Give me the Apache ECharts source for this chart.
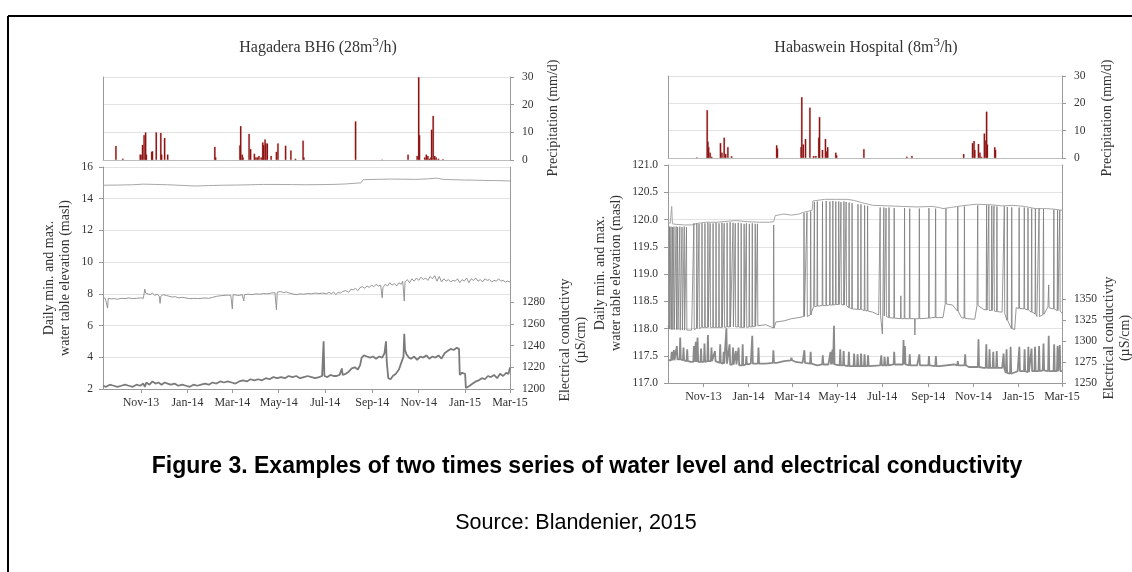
<!DOCTYPE html>
<html><head><meta charset="utf-8">
<script src="https://cdn.jsdelivr.net/npm/echarts@6/dist/echarts.min.js"></script>
<style>html,body{margin:0;padding:0;background:#fff}#c{width:1132px;height:572px}</style>
</head><body><div id="c"></div>
<script>
// x values: days since 1 Sep 2013
const tickDays = [61,122,181,242,303,365,426,487,546];
const tickLabels = ['Nov-13','Jan-14','Mar-14','May-14','Jul-14','Sep-14','Nov-14','Jan-15','Mar-15'];
const ecTicksLeft = [1200,1220,1240,1260,1280];
const ecTicksRight = [1250,1275,1300,1325,1350];

// Hagadera BH6
const hagPrecip = [[28,5.1],[37,0.5],[60,2],[61,2],[63,5.5],[65,9],[67,10],[68,2],[75,3],[76,3.2],[81,10],[87,9.8],[88,2],[92,8],[96,2],[158,4.8],[159,1],[191,5.3],[192,12.3],[194,2],[195,1],[203,9.5],[205,4],[210,2.3],[212,1],[214,1],[216,1.5],[219,1],[221,6.4],[222,5.5],[224,7.5],[225,6],[227,6],[232,1.5],[239,3],[241,6],[251,5.2],[258,3.5],[264,0.5],[274,7],[275,1],[343,14],[378,0.2],[412,2],[424,1.5],[426,30],[427,9],[434,1],[436,2],[438,1.5],[440,0.5],[442,1],[443,11],[445,16],[447,1.5],[449,1],[452,0.5],[458,0.3]];
const hagMax = [[11,14.85],[30,14.86],[50,14.88],[64,14.92],[80,14.9],[96,14.88],[115,14.84],[132,14.8],[150,14.83],[168,14.85],[185,14.86],[205,14.88],[222,14.9],[241,14.9],[260,14.89],[277,14.88],[295,14.89],[313,14.9],[330,14.93],[341,14.97],[350,15.0],[353,15.2],[370,15.22],[390,15.24],[405,15.23],[422,15.22],[438,15.25],[449,15.3],[458,15.22],[470,15.2],[486,15.18],[500,15.17],[513,15.15],[530,15.14],[546,15.12]];
const hagMin = [[11,7.75],[14,7.72],[16,7.8],[17,7.1],[18,7.72],[22,7.68],[26,7.7],[30,7.66],[35,7.72],[40,7.7],[45,7.74],[50,7.7],[55,7.72],[60,7.74],[64,7.72],[66,8.3],[67,8.05],[70,8.0],[73,7.95],[76,8.05],[79,7.9],[82,7.98],[85,7.85],[86,7.4],[87,7.85],[90,7.95],[94,7.9],[98,7.85],[102,7.8],[106,7.82],[110,7.75],[115,7.78],[120,7.74],[125,7.7],[130,7.72],[135,7.7],[140,7.72],[145,7.74],[150,7.72],[155,7.78],[160,7.84],[165,7.88],[170,7.9],[175,7.92],[179,7.9],[181,7.05],[182,7.95],[186,7.92],[190,7.9],[194,7.95],[196,7.55],[197,7.95],[202,7.98],[207,7.95],[212,8.0],[217,7.98],[222,8.02],[227,8.0],[232,8.05],[237,8.08],[239,7.0],[240,8.1],[244,8.15],[248,8.08],[252,8.12],[256,8.05],[260,8.0],[265,7.95],[270,8.0],[275,7.98],[280,8.02],[285,8.0],[290,8.05],[295,8.02],[300,8.05],[305,8.0],[308,8.1],[311,8.0],[314,8.12],[317,7.95],[320,8.1],[323,8.05],[326,8.15],[330,8.2],[334,8.1],[337,8.3],[340,8.25],[343,8.35],[346,8.2],[349,8.4],[352,8.45],[355,8.35],[358,8.5],[361,8.4],[364,8.55],[367,8.45],[370,8.6],[373,8.5],[376,8.55],[378,7.75],[379,8.4],[382,8.6],[385,8.5],[388,8.7],[391,8.55],[394,8.65],[397,8.5],[400,8.7],[403,8.6],[405,8.8],[407,7.55],[408,8.75],[411,8.9],[414,8.7],[417,8.95],[420,8.8],[423,9.0],[426,8.85],[429,9.05],[432,8.9],[435,9.0],[438,8.85],[441,9.1],[444,8.95],[447,9.15],[450,8.8],[453,9.1],[456,8.75],[459,8.95],[462,8.8],[465,8.9],[468,8.75],[471,8.85],[474,8.8],[477,8.95],[480,8.7],[483,8.9],[486,8.8],[489,9.0],[492,8.7],[495,8.95],[498,8.85],[501,9.0],[504,8.8],[507,8.9],[510,8.75],[513,8.95],[516,8.85],[519,8.9],[522,8.75],[525,8.85],[528,8.8],[531,8.95],[534,8.8],[537,8.85],[540,8.75],[543,8.8],[546,8.75]];
const hagEC = [[11,1203],[15,1202],[20,1204],[25,1203],[30,1202],[35,1203],[40,1204],[45,1203],[50,1202],[55,1204],[60,1203],[64,1205],[66,1202],[68,1206],[72,1204],[76,1207],[80,1205],[84,1206],[88,1204],[92,1206],[96,1205],[100,1204],[105,1205],[110,1203],[115,1204],[120,1203],[125,1202],[130,1204],[135,1203],[140,1204],[145,1205],[150,1204],[155,1206],[160,1205],[165,1207],[170,1206],[175,1207],[180,1206],[185,1205],[190,1207],[195,1208],[200,1207],[205,1209],[210,1208],[215,1209],[220,1208],[225,1210],[230,1209],[235,1211],[240,1210],[245,1211],[250,1210],[255,1212],[260,1211],[265,1212],[270,1210],[275,1211],[280,1212],[285,1211],[290,1210],[295,1211],[299,1212],[301,1244],[302,1212],[306,1211],[310,1213],[314,1212],[318,1212],[322,1213],[325,1219],[326,1213],[330,1214],[334,1216],[338,1219],[342,1220],[346,1218],[349,1222],[351,1229],[354,1231],[358,1230],[362,1229],[366,1230],[370,1228],[374,1230],[378,1229],[381,1233],[383,1244],[384,1225],[386,1210],[389,1209],[392,1212],[396,1214],[400,1218],[404,1226],[406,1230],[407,1251],[408,1236],[410,1232],[413,1229],[416,1228],[420,1230],[424,1227],[428,1230],[432,1229],[436,1231],[440,1228],[444,1230],[448,1229],[452,1231],[456,1228],[460,1233],[464,1235],[468,1237],[472,1236],[476,1238],[479,1237],[480,1213],[483,1215],[487,1214],[488,1201],[490,1200],[493,1203],[497,1205],[501,1207],[505,1208],[509,1210],[513,1209],[517,1212],[521,1211],[525,1213],[529,1210],[533,1214],[537,1212],[541,1215],[544,1214],[546,1220]];

// Habaswein Hospital
const habPrecip = [[52,0.3],[66,17.5],[67,6],[68,4],[70,2],[72,0.5],[84,5.5],[86,2],[89,7.5],[91,1.5],[94,4],[99,0.7],[160,4.7],[161,3.5],[193,4],[194,22.3],[196,5],[199,7],[205,18.5],[210,0.8],[213,0.8],[217,7.5],[218,15],[222,3],[226,7],[227,2.5],[229,4],[240,2],[241,1],[278,3.3],[336,0.5],[343,0.8],[413,1.5],[425,5.5],[427,6.3],[428,3],[433,5.2],[435,2],[437,0.5],[441,9],[443,6.5],[444,17],[445,5],[455,4],[456,3]];
const habMax = [[13,119.95],[16,119.93],[18,120.24],[19,119.92],[25,119.91],[35,119.9],[45,119.9],[53,119.93],[65,119.95],[80,119.95],[95,119.97],[105,119.98],[120,119.96],[135,119.95],[150,119.95],[156,119.96],[158,120.07],[165,120.09],[170,120.1],[180,120.08],[190,120.1],[196,120.13],[205,120.16],[208,120.17],[209,120.34],[225,120.37],[240,120.37],[255,120.37],[265,120.35],[275,120.31],[290,120.26],[310,120.25],[330,120.24],[350,120.23],[370,120.24],[380,120.22],[385,120.2],[395,120.22],[410,120.25],[430,120.28],[450,120.27],[465,120.25],[480,120.26],[495,120.24],[510,120.2],[525,120.2],[535,120.19],[546,120.17]];
const habMinBase = [[13,118.05],[20,118.0],[30,117.97],[45,117.97],[57,118.02],[80,118.02],[100,118.03],[120,118.02],[135,118.05],[145,118.07],[152,118.03],[157,118.0],[159,118.12],[170,118.14],[180,118.18],[190,118.2],[200,118.22],[207,118.3],[210,118.4],[225,118.42],[245,118.44],[255,118.42],[260,118.36],[275,118.35],[290,118.3],[298,118.25],[310,118.2],[330,118.18],[350,118.18],[370,118.2],[385,118.2],[388,118.45],[398,118.43],[406,118.3],[410,118.2],[418,118.18],[428,118.17],[431,118.42],[440,118.35],[455,118.32],[465,118.3],[474,118.1],[479,118.0],[482,117.98],[484,118.38],[495.6,118.36],[506,118.3],[512,118.22],[520,118.25],[527,118.4],[537,118.35],[546,118.28]];
// [day, base, peak]
const habMinSpikes = [[15,117.99,119.87],[17,117.98,119.87],[19,117.98,119.86],[21,117.98,119.87],[24,117.98,119.87],[26,117.98,119.86],[29,117.97,119.87],[32,117.97,119.86],[35,117.97,119.87],[38,117.97,119.86],[48,117.98,119.93],[52,118.0,119.93],[55,118.0,119.92],[59,118.02,119.93],[63,118.02,119.93],[67,118.02,119.94],[70,118.02,119.93],[74,118.02,119.93],[78,118.02,119.94],[82,118.02,119.93],[86,118.02,119.94],[89,118.02,119.93],[93,118.03,119.94],[97,118.03,119.95],[101,118.03,119.94],[104,118.03,119.93],[108,118.03,119.94],[112,118.02,119.93],[116,118.02,119.92],[119,118.02,119.93],[123,118.03,119.92],[127,118.03,119.93],[131,118.04,119.92],[134,118.05,119.92],[156,118.01,119.9],[197,118.22,120.12],[201,118.22,120.13],[206,118.25,120.15],[211,118.4,120.32],[215,118.41,120.33],[222,118.42,120.33],[227,118.42,120.34],[232,118.43,120.33],[236,118.43,120.34],[240,118.44,120.33],[244,118.44,120.33],[247,118.44,120.32],[251,118.43,120.33],[254,118.42,120.32],[258,118.38,120.31],[262,118.36,120.3],[270,118.35,120.28],[274,118.35,120.28],[279,118.33,120.26],[283,118.32,120.25],[300,118.24,120.22],[303,118.23,117.9],[305,118.23,120.22],[308,118.22,120.21],[312,118.2,120.22],[319,118.19,120.21],[328,118.18,118.6],[333,118.18,120.21],[340,118.18,120.2],[347,118.18,117.88],[353,118.18,120.2],[366,118.19,120.21],[375,118.2,120.2],[389,118.45,120.2],[405,118.32,120.23],[414,118.19,120.24],[432,118.42,120.26],[444,118.34,120.26],[447,118.33,120.26],[451,118.33,120.25],[454,118.32,120.25],[458,118.31,120.24],[468,118.28,120.24],[472,118.15,120.23],[478,118.0,120.22],[488,118.37,120.22],[495,118.36,120.22],[500,118.34,120.21],[505,118.3,120.2],[510,118.27,120.2],[515,118.22,120.2],[521,118.26,120.19],[528,118.38,118.8],[535,118.36,120.18],[540,118.33,120.17],[543,118.32,120.17]];
const habEcBase = [[13,1277],[22.5,1278],[31,1277],[40,1276],[44,1275],[60,1275],[75,1276],[90,1273],[100,1272],[112,1271],[125,1273],[145,1273],[160,1274],[170,1276],[182,1277],[186,1275],[195,1274],[215,1271],[230,1272],[260,1270],[280,1270],[300,1271],[320,1272],[350,1271],[380,1270],[400,1272],[420,1269],[440,1268],[465,1268],[470,1262],[480,1261],[486,1264],[498,1263],[520,1265],[546,1264]];
const habEcSpikes = [[18,1277,1287],[21,1277,1289],[25,1278,1294],[29.5,1278,1304],[34,1277,1292],[39,1276,1290],[48,1275,1294],[50.6,1275,1299],[53,1275,1304],[57.7,1275,1291],[62.4,1275,1297],[67,1276,1307],[71.8,1276,1292],[76.5,1276,1288],[83.6,1274,1296],[88.3,1273,1287],[92,1273,1315],[96.3,1272,1296],[101,1272,1292],[104.8,1272,1288],[108.5,1271,1292],[114,1271,1296],[119,1272,1282],[127,1273,1306],[135.4,1273,1292],[155.6,1274,1289],[180,1277,1280],[197.5,1274,1289],[206,1273,1287],[222.4,1272,1283],[232.8,1272,1287],[235.6,1272,1290],[237.5,1272,1318],[246,1271,1290],[250.6,1271,1288],[257.7,1270,1287],[264.8,1270,1285],[269.5,1270,1284],[274.2,1270,1285],[278.9,1270,1284],[283.6,1270,1283],[301.5,1271,1283],[306,1271,1281],[310.4,1271,1281],[319,1272,1287],[331.6,1272,1301],[333.5,1272,1294],[340,1271,1284],[353,1271,1284],[366,1271,1282],[375.4,1270,1282],[405,1271,1276],[415,1271,1284],[433,1269,1302],[443.6,1268,1296],[448,1268,1290],[453,1268,1287],[457.7,1268,1288],[467,1268,1285],[471,1262,1290],[476.5,1261,1293],[488.3,1264,1293],[495.4,1264,1290],[500.5,1263,1293],[504.8,1264,1291],[509.5,1264,1293],[515,1264,1294],[521,1265,1297],[528,1264,1306],[535.4,1264,1296],[540,1264,1294],[543,1264,1295]];

function withSpikes(base, spikes, hw) {
  const pts = base.map(p => [p[0], p[1]]);
  spikes.forEach(s => { pts.push([s[0] - hw, s[1]], [s[0], s[2]], [s[0] + hw, s[1]]); });
  pts.sort((a, b) => a[0] - b[0]);
  return pts;
}

const SERIF = 'Liberation Serif';
const TXT = '#333';
const AX = '#9a9a9a';
const GRIDC = '#e2e2e2';
const plain = v => String(v);

function xAxisDef(grid, min, labels) {
  return {
    type: 'value', gridIndex: grid, min: min, max: 546,
    axisLine: {show: true, onZero: false, lineStyle: {color: labels ? AX : '#bdbdbd'}},
    axisTick: labels ? {show: true, customValues: tickDays, length: 4, lineStyle: {color: AX}} : {show: false},
    axisLabel: labels ? {show: true, customValues: tickDays, margin: 8, fontFamily: SERIF, fontSize: 12, color: TXT,
      formatter: v => { const i = tickDays.indexOf(v); return i >= 0 ? tickLabels[i] : ''; }} : {show: false},
    splitLine: {show: false}
  };
}
function yAxisDef(grid, pos, min, max, opts) {
  const o = Object.assign({
    type: 'value', gridIndex: grid, position: pos, min: min, max: max,
    axisLine: {show: true, lineStyle: {color: AX}},
    axisTick: {show: true, length: 4, lineStyle: {color: AX}},
    axisLabel: {show: true, margin: pos === 'left' ? 10 : 12, fontFamily: SERIF, fontSize: 11.5, color: TXT, formatter: plain},
    splitLine: {show: false}
  }, opts || {});
  return o;
}

const option = {
  animation: false,
  backgroundColor: '#fff',
  grid: [
    {left: 103, top: 77, width: 407, height: 83, outerBoundsMode: 'none'},
    {left: 103, top: 167, width: 407, height: 222, outerBoundsMode: 'none'},
    {left: 668, top: 76, width: 394, height: 82, outerBoundsMode: 'none'},
    {left: 668, top: 165, width: 394, height: 218, outerBoundsMode: 'none'}
  ],
  xAxis: [xAxisDef(0, 11, false), xAxisDef(1, 11, true), xAxisDef(2, 13, false), xAxisDef(3, 13, true)],
  yAxis: [
    yAxisDef(0, 'left', 0, 30, {interval: 10, axisTick: {show: false}, axisLabel: {show: false}, splitLine: {show: true, lineStyle: {color: GRIDC}}}),
    yAxisDef(0, 'right', 0, 30, {interval: 10}),
    yAxisDef(1, 'left', 2, 16, {interval: 2, splitLine: {show: true, lineStyle: {color: GRIDC}}}),
    yAxisDef(1, 'right', 1200, 1405, {
      axisTick: {show: true, length: 4, customValues: ecTicksLeft, lineStyle: {color: AX}},
      axisLabel: {show: true, margin: 12, customValues: ecTicksLeft, fontFamily: SERIF, fontSize: 11.5, color: TXT, formatter: plain}}),
    yAxisDef(2, 'left', 0, 30, {interval: 10, axisTick: {show: false}, axisLabel: {show: false}, splitLine: {show: true, lineStyle: {color: GRIDC}}}),
    yAxisDef(2, 'right', 0, 30, {interval: 10}),
    yAxisDef(3, 'left', 117, 121, {interval: 0.5, splitLine: {show: true, lineStyle: {color: GRIDC}},
      axisLabel: {show: true, margin: 10, fontFamily: SERIF, fontSize: 11.5, color: TXT, formatter: v => v.toFixed(1)}}),
    yAxisDef(3, 'right', 1250, 1509, {
      axisTick: {show: true, length: 4, customValues: ecTicksRight, lineStyle: {color: AX}},
      axisLabel: {show: true, margin: 12, customValues: ecTicksRight, fontFamily: SERIF, fontSize: 11.5, color: TXT, formatter: plain}})
  ],
  series: [
    {type: 'bar', name: 'Precipitation', xAxisIndex: 0, yAxisIndex: 0, data: hagPrecip, barWidth: 1.8,
      itemStyle: {color: '#8b0a0a', borderColor: 'rgba(170,80,80,0.6)', borderWidth: 0.4}},
    {type: 'line', name: 'Max', xAxisIndex: 1, yAxisIndex: 2, data: hagMax, showSymbol: false, symbol: 'none',
      lineStyle: {color: '#a8a8a8', width: 1}},
    {type: 'line', name: 'Min', xAxisIndex: 1, yAxisIndex: 2, data: hagMin, showSymbol: false, symbol: 'none',
      lineStyle: {color: '#8a8a8a', width: 0.9}},
    {type: 'line', name: 'EC', xAxisIndex: 1, yAxisIndex: 3, data: hagEC, showSymbol: false, symbol: 'none',
      lineStyle: {color: '#7a7a7a', width: 1.8}},
    {type: 'bar', name: 'Precipitation', xAxisIndex: 2, yAxisIndex: 4, data: habPrecip, barWidth: 1.8,
      itemStyle: {color: '#8b0a0a', borderColor: 'rgba(170,80,80,0.6)', borderWidth: 0.4}},
    {type: 'line', name: 'Max', xAxisIndex: 3, yAxisIndex: 6, data: habMax, showSymbol: false, symbol: 'none',
      lineStyle: {color: '#a6a6a6', width: 1}},
    {type: 'line', name: 'Min', xAxisIndex: 3, yAxisIndex: 6, data: withSpikes(habMinBase, habMinSpikes, 0.5), showSymbol: false, symbol: 'none',
      lineStyle: {color: '#7c7c7c', width: 0.8}},
    {type: 'line', name: 'EC', xAxisIndex: 3, yAxisIndex: 7, data: withSpikes(habEcBase, habEcSpikes, 0.8), showSymbol: false, symbol: 'none',
      lineStyle: {color: '#8a8a8a', width: 1.8}}
  ],
  graphic: [
    {type: 'line', shape: {x1: 8, y1: 16, x2: 1132, y2: 16}, style: {stroke: '#000', lineWidth: 2}},
    {type: 'line', shape: {x1: 8, y1: 16, x2: 8, y2: 572}, style: {stroke: '#000', lineWidth: 2}},
    {type: 'text', x: 318, y: 46, style: {text: '{n|Hagadera BH6 (28m}{s|3}{n|/h)}', align: 'center', verticalAlign: 'middle', textAlign: 'center', textVerticalAlign: 'middle',
      rich: {n: {fontFamily: SERIF, fontSize: 16, fill: TXT, color: TXT, lineHeight: 20, verticalAlign: 'bottom'}, s: {fontFamily: SERIF, fontSize: 13, fill: TXT, color: TXT, lineHeight: 20, verticalAlign: 'top'}}}},
    {type: 'text', x: 866, y: 46, style: {text: '{n|Habaswein Hospital (8m}{s|3}{n|/h)}', align: 'center', verticalAlign: 'middle', textAlign: 'center', textVerticalAlign: 'middle',
      rich: {n: {fontFamily: SERIF, fontSize: 16, fill: TXT, color: TXT, lineHeight: 20, verticalAlign: 'bottom'}, s: {fontFamily: SERIF, fontSize: 13, fill: TXT, color: TXT, lineHeight: 20, verticalAlign: 'top'}}}},
    // axis names
    {type: 'text', x: 57, y: 278, rotation: Math.PI / 2, style: {text: 'Daily min. and max.\nwater table elevation (masl)', align: 'center', verticalAlign: 'middle', textAlign: 'center', textVerticalAlign: 'middle', fontFamily: SERIF, fontSize: 14, lineHeight: 16, fill: TXT}},
    {type: 'text', x: 553, y: 118, rotation: Math.PI / 2, style: {text: 'Precipitation (mm/d)', align: 'center', verticalAlign: 'middle', textAlign: 'center', textVerticalAlign: 'middle', fontFamily: SERIF, fontSize: 14, fill: TXT}},
    {type: 'text', x: 573, y: 340, rotation: Math.PI / 2, style: {text: 'Electrical conductivty\n(µS/cm)', align: 'center', verticalAlign: 'middle', textAlign: 'center', textVerticalAlign: 'middle', fontFamily: SERIF, fontSize: 14, lineHeight: 16, fill: TXT}},
    {type: 'text', x: 608, y: 273, rotation: Math.PI / 2, style: {text: 'Daily min. and max.\nwater table elevation (masl)', align: 'center', verticalAlign: 'middle', textAlign: 'center', textVerticalAlign: 'middle', fontFamily: SERIF, fontSize: 14, lineHeight: 16, fill: TXT}},
    {type: 'text', x: 1107, y: 118, rotation: Math.PI / 2, style: {text: 'Precipitation (mm/d)', align: 'center', verticalAlign: 'middle', textAlign: 'center', textVerticalAlign: 'middle', fontFamily: SERIF, fontSize: 14, fill: TXT}},
    {type: 'text', x: 1117, y: 338, rotation: Math.PI / 2, style: {text: 'Electrical conductivty\n(µS/cm)', align: 'center', verticalAlign: 'middle', textAlign: 'center', textVerticalAlign: 'middle', fontFamily: SERIF, fontSize: 14, lineHeight: 16, fill: TXT}},
    // caption
    {type: 'text', x: 587, y: 467, style: {text: 'Figure 3. Examples of two times series of water level and electrical conductivity', align: 'center', verticalAlign: 'middle', textAlign: 'center', textVerticalAlign: 'middle', fontFamily: 'Liberation Sans', fontWeight: 'bold', fontSize: 23, fill: '#000'}},
    {type: 'text', x: 576, y: 523, style: {text: 'Source: Blandenier, 2015', align: 'center', verticalAlign: 'middle', textAlign: 'center', textVerticalAlign: 'middle', fontFamily: 'Liberation Sans', fontSize: 21.5, fill: '#000'}}
  ]
};
const chart = echarts.init(document.getElementById('c'), null, {renderer: 'canvas'});
chart.setOption(option);
</script></body></html>
